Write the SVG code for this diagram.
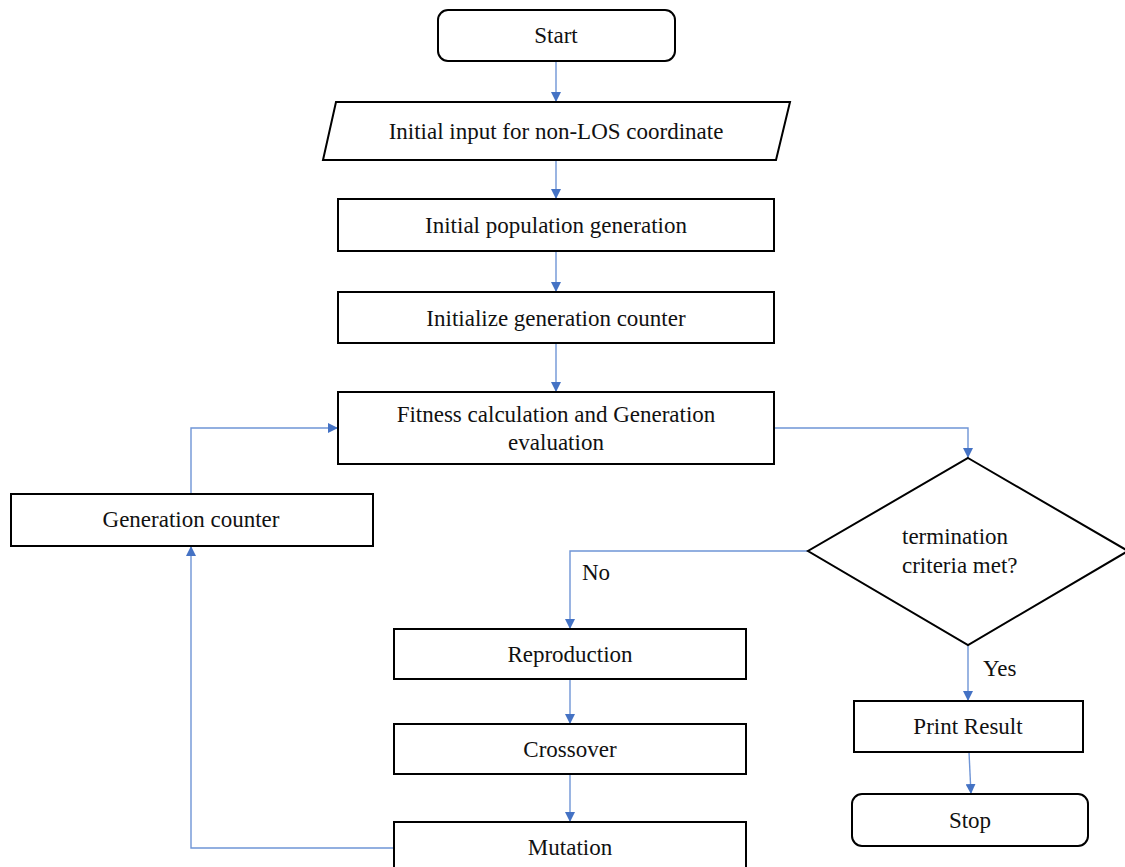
<svg xmlns="http://www.w3.org/2000/svg" width="1125" height="867" viewBox="0 0 1125 867">
  <style>
    .box { fill: #ffffff; stroke: #000000; stroke-width: 2; }
    .lbl { font-family: "Liberation Serif", "DejaVu Serif", serif; font-size: 23px; fill: #111111; }
    .mid { text-anchor: middle; }
    .link { fill: none; stroke: #6f95d6; stroke-width: 1.4; }
  </style>
  <defs>
    <marker id="arrow" viewBox="0 0 10 10" refX="10" refY="5" markerWidth="10" markerHeight="10" markerUnits="userSpaceOnUse" orient="auto">
      <path d="M0,0 L10,5 L0,10 Z" fill="#4472c4"/>
    </marker>
  </defs>
  <rect width="1125" height="867" fill="#ffffff"/>

  <!-- flow lines between the steps -->
  <g id="connectors">
    <line class="link" x1="556" y1="62" x2="556" y2="102" marker-end="url(#arrow)"/>
    <line class="link" x1="556" y1="160" x2="556" y2="199" marker-end="url(#arrow)"/>
    <line class="link" x1="556" y1="251" x2="556" y2="292" marker-end="url(#arrow)"/>
    <line class="link" x1="556" y1="343" x2="556" y2="392" marker-end="url(#arrow)"/>
    <polyline class="link" points="774,428 968,428 968,458" marker-end="url(#arrow)"/>
    <polyline class="link" points="808,551 570,551 570,629" marker-end="url(#arrow)"/>
    <line class="link" x1="570" y1="679" x2="570" y2="724" marker-end="url(#arrow)"/>
    <line class="link" x1="570" y1="774" x2="570" y2="822" marker-end="url(#arrow)"/>
    <polyline class="link" points="394,848 191,848 191,546" marker-end="url(#arrow)"/>
    <polyline class="link" points="191,494 191,428 338,428" marker-end="url(#arrow)"/>
    <line class="link" x1="968" y1="645" x2="968" y2="701" marker-end="url(#arrow)"/>
    <line class="link" x1="969" y1="752" x2="971" y2="794" marker-end="url(#arrow)"/>
    <text class="lbl" x="582" y="580">No</text>
    <text class="lbl" x="983" y="676">Yes</text>
  </g>

  <g id="start">
    <rect class="box" x="438" y="10" width="237" height="51" rx="10"/>
    <text class="lbl mid" x="556" y="43">Start</text>
  </g>
  <g id="input">
    <polygon class="box" points="336,102 790,102 776,160 323,160"/>
    <text class="lbl mid" x="556" y="139">Initial input for non-LOS coordinate</text>
  </g>
  <g id="population">
    <rect class="box" x="338" y="199" width="436" height="52"/>
    <text class="lbl mid" x="556" y="233">Initial population generation</text>
  </g>
  <g id="init-counter">
    <rect class="box" x="338" y="292" width="436" height="51"/>
    <text class="lbl mid" x="556" y="326">Initialize generation counter</text>
  </g>
  <g id="fitness">
    <rect class="box" x="338" y="392" width="436" height="72"/>
    <text class="lbl mid" x="556" y="422">Fitness calculation and Generation</text>
    <text class="lbl mid" x="556" y="450">evaluation</text>
  </g>
  <g id="gen-counter">
    <rect class="box" x="11" y="494" width="362" height="52"/>
    <text class="lbl mid" x="191" y="527">Generation counter</text>
  </g>
  <g id="decision">
    <polygon class="box" points="968,458 1128,551 968,645 808,551"/>
    <text class="lbl" x="902" y="544">termination</text>
    <text class="lbl" x="902" y="573">criteria met?</text>
  </g>
  <g id="reproduction">
    <rect class="box" x="394" y="629" width="352" height="50"/>
    <text class="lbl mid" x="570" y="662">Reproduction</text>
  </g>
  <g id="crossover">
    <rect class="box" x="394" y="724" width="352" height="50"/>
    <text class="lbl mid" x="570" y="757">Crossover</text>
  </g>
  <g id="mutation">
    <rect class="box" x="394" y="822" width="352" height="50"/>
    <text class="lbl mid" x="570" y="855">Mutation</text>
  </g>
  <g id="print-result">
    <rect class="box" x="854" y="701" width="229" height="51"/>
    <text class="lbl mid" x="968" y="734">Print Result</text>
  </g>
  <g id="stop">
    <rect class="box" x="852" y="794" width="236" height="52" rx="10"/>
    <text class="lbl mid" x="970" y="828">Stop</text>
  </g>
</svg>
